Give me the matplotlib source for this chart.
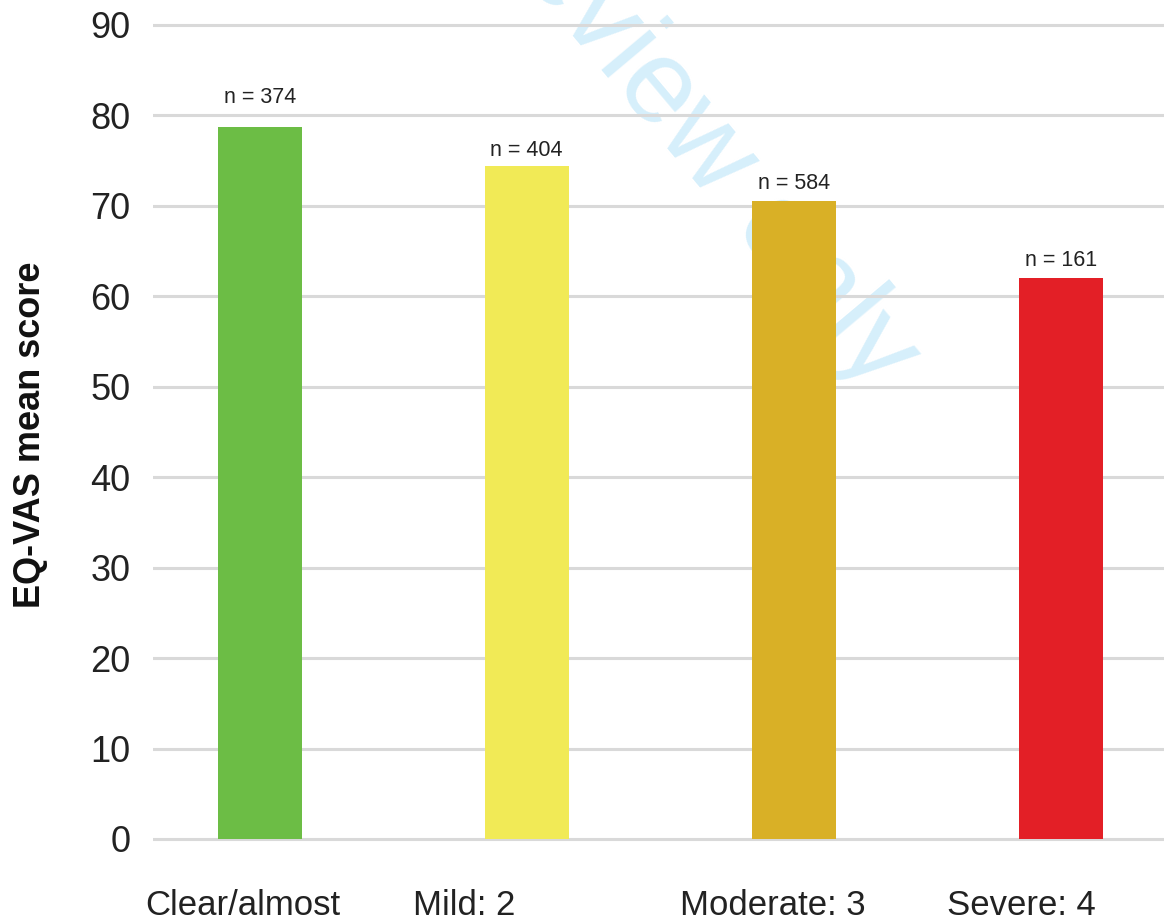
import matplotlib.pyplot as plt
from matplotlib.transforms import ScaledTranslation

plt.rcParams['font.family'] = ['Liberation Sans', 'DejaVu Sans']

# EQ-VAS mean score by severity group
categories = ['Clear/almost', 'Mild: 2', 'Moderate: 3', 'Severe: 4']
mean_scores = [78.7, 74.4, 70.5, 62.0]
n_counts = [374, 404, 584, 161]
bar_colors = ['#6CBD45', '#F1EA56', '#D9B026', '#E31F26']
y_ticks = [0, 10, 20, 30, 40, 50, 60, 70, 80, 90]
label_offsets = [14, 4, 5, 5]   # points above each bar

fig = plt.figure(figsize=(11.64, 9.17), dpi=100)
ax = fig.add_axes([0.1314, 0.0792, 0.8716, 0.9034])
for s in ax.spines.values():
    s.set_visible(False)

# watermark sits underneath grid and bars
ax.text(0.750, 0.570, 'For peer review only', transform=fig.transFigure,
        fontsize=86, color='#D6EFFB', rotation=-50, rotation_mode='anchor',
        ha='right', va='baseline', zorder=0.5, clip_on=False)

x = range(len(categories))
ax.bar(x, mean_scores, width=0.315, color=bar_colors, zorder=3)

for xi, v, n, off in zip(x, mean_scores, n_counts, label_offsets):
    ax.annotate(f'n = {n}', (xi, v), xytext=(0, off), textcoords='offset points',
                ha='center', va='bottom', fontsize=15.5, color='#222222')

ax.set_xlim(-0.4, 3.4)
ax.set_ylim(-0.6, 91)
ax.set_yticks(y_ticks)
ax.yaxis.grid(True, color='#D9D9D9', linewidth=2.2, zorder=1)
ax.set_axisbelow(True)
ax.tick_params(axis='both', length=0, colors='#222222')
ax.tick_params(axis='y', pad=16, labelsize=26)
ax.tick_params(axis='x', pad=32, labelsize=25)

ax.set_xticks(list(x))
ax.set_xticklabels(categories, ha='left', va='top')
shift = ScaledTranslation(-114 / 100, 0, fig.dpi_scale_trans)
for lbl in ax.get_xticklabels():
    lbl.set_transform(lbl.get_transform() + shift)

ax.set_ylabel('EQ-VAS mean score', fontsize=26, fontweight='bold', color='#111111')
ax.yaxis.set_label_coords(-0.103, 0.494)

fig.savefig('out.png', dpi=100)
